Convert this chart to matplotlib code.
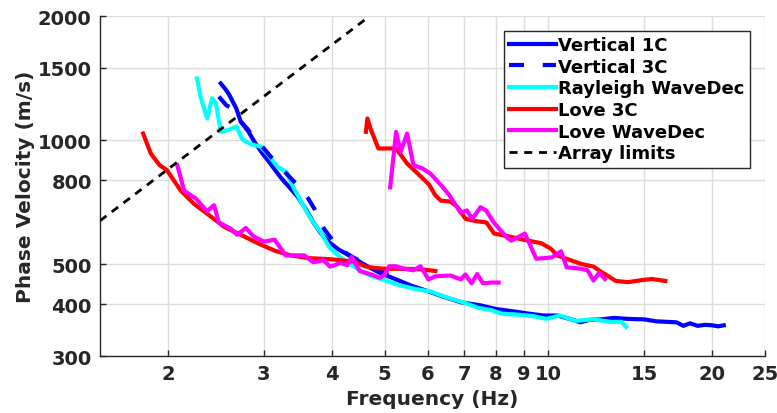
import matplotlib
matplotlib.use("Agg")
import matplotlib.pyplot as plt
from matplotlib.ticker import FixedLocator, NullLocator, FixedFormatter

# ---- dispersion picks: frequency (Hz) and phase velocity (m/s) ----
v1c_f = [2.50, 2.55, 2.59, 2.67, 2.72, 2.81, 2.88, 2.98, 3.08, 3.16, 3.24, 3.34, 3.46,
         3.58, 3.70, 3.82, 3.96, 4.12, 4.28, 4.45, 4.65, 4.90, 5.25, 5.60, 6.00, 6.40,
         6.90, 7.50, 8.00, 8.60, 9.20, 9.80, 10.4, 11.0, 11.45, 11.9, 12.5, 13.2, 14.0,
         15.0, 15.8, 16.5, 17.2, 17.7, 18.2, 18.8, 19.4, 20.0, 20.5, 21.0]
v1c_v = [1373, 1330, 1290, 1194, 1110, 1050, 993, 930, 880, 840, 805, 770, 730,
         682, 632, 595, 565, 543, 528, 512, 495, 477, 460, 444, 431, 418,
         405, 398, 390, 385, 380, 376, 376, 368, 362, 367, 368, 371, 369,
         368, 364, 363, 362, 355, 360, 355, 357, 356, 354, 356]

v3c_f = [2.48, 2.56, 2.64, 2.72, 2.80, 2.88, 3.00, 3.15, 3.33, 3.47, 3.62, 3.72,
         3.87, 4.04, 4.20, 4.40, 4.70, 4.97, 5.25]
v3c_v = [1276, 1215, 1190, 1110, 1065, 1010, 955, 885, 820, 775, 722, 680,
         610, 565, 538, 518, 498, 479, 460]

ray_f = [2.26, 2.30, 2.36, 2.41, 2.45, 2.50, 2.59, 2.67, 2.74, 2.84, 2.96, 3.05,
         3.18, 3.30, 3.41, 3.55, 3.66, 3.82, 3.96, 4.15, 4.33, 4.50, 4.70, 4.95,
         5.30, 5.65, 6.07, 6.50, 7.00, 7.45, 7.83, 8.20, 8.75, 9.35, 9.90, 10.5,
         11.2, 12.1, 13.0, 13.6, 13.9]
ray_v = [1412, 1262, 1129, 1264, 1228, 1048, 1060, 1080, 1004, 978, 965, 924,
         862, 838, 763, 692, 645, 598, 550, 520, 500, 484, 470, 460,
         446, 437, 430, 416, 404, 392, 388, 380, 378, 375, 369, 376,
         365, 368, 363, 363, 353]

love3c_lo_f = [1.80, 1.86, 1.93, 1.99, 2.04, 2.11, 2.23, 2.38, 2.54, 2.72, 2.94, 3.14,
               3.36, 3.62, 3.96, 4.40, 4.60, 4.80, 5.05, 5.40, 5.82, 6.20]
love3c_lo_v = [1038, 928, 870, 847, 807, 755, 702, 658, 616, 590, 561, 540,
               526, 518, 515, 508, 495, 490, 488, 488, 487, 482]

love3c_hi_f = [4.62, 4.65, 4.72, 4.87, 5.00, 5.25, 5.50, 5.76, 6.04, 6.19, 6.34, 6.61,
               6.80, 7.04, 7.35, 7.69, 7.95, 8.50, 9.05, 9.70, 10.1, 10.4, 10.8,
               11.45, 12.1, 12.5, 13.3, 14.0, 15.0, 15.5, 16.4]
love3c_hi_v = [1048, 1129, 1060, 955, 955, 955, 878, 829, 780, 737, 714, 710,
               690, 645, 637, 632, 594, 584, 573, 563, 546, 525, 516,
               502, 494, 480, 456, 453, 459, 461, 456]

lovewd_lo_f = [2.08, 2.11, 2.14, 2.25, 2.36, 2.43, 2.48, 2.61, 2.68, 2.78, 2.87, 3.00,
               3.14, 3.29, 3.56, 3.70, 3.86, 3.97, 4.15, 4.27, 4.35, 4.50, 4.72, 4.90,
               5.00, 5.10, 5.25, 5.43, 5.65, 5.82, 6.02, 6.20, 6.61, 6.90, 7.04,
               7.22, 7.40, 7.58, 7.85, 8.10]
lovewd_lo_v = [870, 812, 755, 722, 673, 696, 632, 610, 590, 613, 585, 568,
               574, 526, 526, 506, 512, 494, 504, 498, 522, 482, 473, 464,
               472, 495, 495, 488, 484, 495, 460, 468, 470, 460, 473,
               450, 474, 450, 452, 452]

lovewd_hi_f = [5.12, 5.25, 5.35, 5.50, 5.65, 5.87, 6.07, 6.34, 6.57, 6.90, 7.08, 7.25,
               7.50, 7.68, 7.95, 8.40, 8.55, 9.05, 9.50, 10.15, 10.55, 10.80, 11.50,
               11.80, 12.10, 12.40, 12.70]
lovewd_hi_v = [769, 1048, 937, 1038, 870, 854, 830, 780, 737, 667, 676, 645,
               688, 676, 630, 580, 571, 594, 516, 520, 538, 492, 488,
               484, 457, 478, 461]

limit_f = [1.5, 4.62]
limit_v = [638, 1967]

xticks = [2, 3, 4, 5, 6, 7, 8, 9, 10, 15, 20, 25]
xtick_labels = ["2", "3", "4", "5", "6", "7", "8", "9", "10", "15", "20", "25"]
yticks = [300, 400, 500, 800, 1000, 1500, 2000]
ytick_labels = ["300", "400", "500", "800", "1000", "1500", "2000"]

# ---- figure ----
plt.rcParams["font.family"] = ["DejaVu Sans"]
plt.rcParams["font.weight"] = "bold"
dark = "#262626"

fig = plt.figure(figsize=(7.77, 4.14), dpi=100)
ax = fig.add_axes([100 / 777, 1 - 357 / 414, 665 / 777, 340 / 414])

lw = 3.0
ax.plot(v1c_f, v1c_v, color="#0000ff", lw=lw, label="Vertical 1C", zorder=2.0)
ax.plot(v3c_f, v3c_v, color="#0000ff", lw=lw, ls=(0, (3.6, 4.5)), label="Vertical 3C",
        zorder=2.3)
ax.plot(ray_f, ray_v, color="#00ffff", lw=lw, label="Rayleigh WaveDec", zorder=2.2)
ax.plot(love3c_lo_f, love3c_lo_v, color="#ff0000", lw=lw, label="Love 3C", zorder=2.4)
ax.plot(love3c_hi_f, love3c_hi_v, color="#ff0000", lw=lw, zorder=2.4)
ax.plot(lovewd_lo_f, lovewd_lo_v, color="#ff00ff", lw=lw, label="Love WaveDec", zorder=2.5)
ax.plot(lovewd_hi_f, lovewd_hi_v, color="#ff00ff", lw=lw, zorder=2.5)
ax.plot(limit_f, limit_v, color="black", lw=2.0, ls=(0, (2.9, 2.4)), label="Array limits",
        zorder=2.6)

ax.set_xscale("log")
ax.set_yscale("log")
ax.set_xlim(1.5, 25)
ax.set_ylim(300, 2000)

ax.xaxis.set_major_locator(FixedLocator(xticks))
ax.xaxis.set_major_formatter(FixedFormatter(xtick_labels))
ax.xaxis.set_minor_locator(NullLocator())
ax.yaxis.set_major_locator(FixedLocator(yticks))
ax.yaxis.set_major_formatter(FixedFormatter(ytick_labels))
ax.yaxis.set_minor_locator(NullLocator())

ax.grid(True, which="major", color="#dcdcdc", lw=1.0)
ax.set_axisbelow(True)
for side in ("top", "right"):
    ax.spines[side].set_visible(False)
for side in ("left", "bottom"):
    ax.spines[side].set_color(dark)
    ax.spines[side].set_linewidth(1.0)

ax.tick_params(axis="both", direction="in", length=4, width=1.0, colors=dark,
               labelsize=14, pad=6)
for lab in ax.get_xticklabels() + ax.get_yticklabels():
    lab.set_fontweight("bold")

ax.set_xlabel("Frequency (Hz)", fontsize=14.5, fontweight="bold", color=dark, labelpad=4)
ax.set_ylabel("Phase Velocity (m/s)", fontsize=14.5, fontweight="bold", color=dark, labelpad=2)

leg = ax.legend(loc="upper right", bbox_to_anchor=(750 / 777, 1 - 31.7 / 414),
                bbox_transform=fig.transFigure, borderaxespad=0,
                prop={"weight": "bold", "size": 13.0}, frameon=True, fancybox=False,
                framealpha=1, edgecolor=dark, handlelength=2.6, handletextpad=0.1,
                labelspacing=0.2, borderpad=0.3)
leg.get_frame().set_linewidth(1.0)

fig.savefig("out.png", dpi=100)
